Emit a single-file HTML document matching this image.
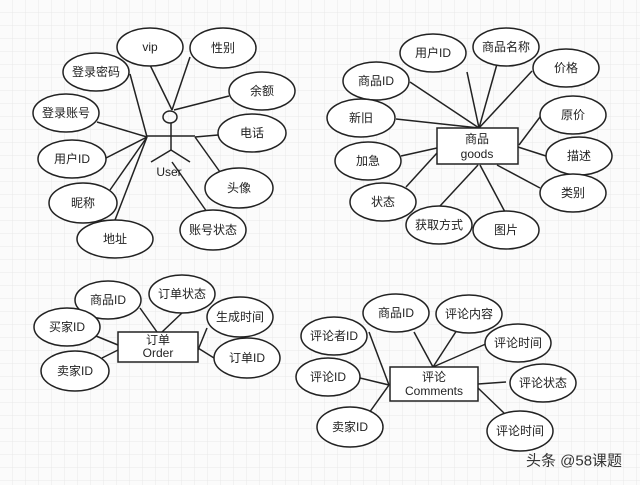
<!DOCTYPE html>
<html><head><meta charset="utf-8"><style>
html,body{margin:0;padding:0;background:#fbfbfb;}
svg{display:block;}
text{font-family:"Liberation Sans","Noto Sans CJK SC",sans-serif;font-size:12px;fill:#222;text-anchor:middle;dominant-baseline:central;}
</style></head><body>
<svg width="640" height="485" viewBox="0 0 640 485" xmlns="http://www.w3.org/2000/svg">
<defs>
<pattern id="g" width="13" height="13" patternUnits="userSpaceOnUse">
<path d="M13 0V13H0" fill="none" stroke="#e8e8e8" stroke-width="1"/>
</pattern>
</defs>
<rect width="640" height="485" fill="url(#g)"/>
<g stroke="#222" stroke-width="1.5" fill="none">
<!-- User lines -->
<line x1="150" y1="65" x2="172" y2="110"/>
<line x1="190" y1="57" x2="172" y2="110"/>
<line x1="229" y1="96" x2="174" y2="110"/>
<line x1="130" y1="74" x2="147" y2="137"/>
<line x1="97" y1="122" x2="147" y2="137"/>
<line x1="106" y1="158" x2="147" y2="137"/>
<line x1="110" y1="190" x2="147" y2="137"/>
<line x1="115" y1="220" x2="147" y2="137"/>
<line x1="218" y1="135" x2="195" y2="137"/>
<line x1="220" y1="172" x2="195" y2="137"/>
<line x1="207" y1="212" x2="172" y2="162"/>
<!-- stick figure -->
<ellipse cx="170" cy="117" rx="7" ry="6"/>
<line x1="171" y1="123" x2="171" y2="150"/>
<line x1="147" y1="136" x2="195" y2="136"/>
<line x1="171" y1="150" x2="151" y2="162"/>
<line x1="171" y1="150" x2="190" y2="162"/>
<!-- goods lines -->
<line x1="467" y1="72" x2="479" y2="128"/>
<line x1="497" y1="64" x2="479" y2="128"/>
<line x1="532" y1="71" x2="479" y2="128"/>
<line x1="410" y1="82" x2="479" y2="128"/>
<line x1="396" y1="119" x2="479" y2="128"/>
<line x1="540" y1="117" x2="519" y2="145"/>
<line x1="546" y1="156" x2="518" y2="147"/>
<line x1="540" y1="188" x2="497" y2="165"/>
<line x1="401" y1="156" x2="437" y2="148"/>
<line x1="406" y1="187" x2="437" y2="153"/>
<line x1="440" y1="206" x2="478" y2="165"/>
<line x1="505" y1="212" x2="480" y2="165"/>
<!-- order lines -->
<line x1="140" y1="308" x2="157" y2="332"/>
<line x1="183" y1="312" x2="162" y2="332"/>
<line x1="207" y1="328" x2="198" y2="350"/>
<line x1="96" y1="336" x2="118" y2="345"/>
<line x1="102" y1="358" x2="118" y2="350"/>
<line x1="214" y1="358" x2="198" y2="348"/>
<!-- comments lines -->
<line x1="369" y1="332" x2="389" y2="385"/>
<line x1="360" y1="378" x2="389" y2="385"/>
<line x1="369" y1="413" x2="389" y2="385"/>
<line x1="414" y1="332" x2="433" y2="367"/>
<line x1="457" y1="330" x2="433" y2="367"/>
<line x1="488" y1="343" x2="433" y2="367"/>
<line x1="506" y1="382" x2="478" y2="384"/>
<line x1="504" y1="413" x2="478" y2="388"/>
</g>
<g stroke="#222" stroke-width="1.5" fill="#fff">
<ellipse cx="150" cy="47" rx="33" ry="19"/>
<ellipse cx="223" cy="48" rx="33" ry="20"/>
<ellipse cx="96" cy="72" rx="33" ry="19"/>
<ellipse cx="262" cy="91" rx="33" ry="19"/>
<ellipse cx="66" cy="113" rx="33" ry="19"/>
<ellipse cx="252" cy="133" rx="34" ry="19"/>
<ellipse cx="72" cy="159" rx="34" ry="19"/>
<ellipse cx="239" cy="188" rx="34" ry="20"/>
<ellipse cx="83" cy="203" rx="34" ry="20"/>
<ellipse cx="213" cy="230" rx="33" ry="20"/>
<ellipse cx="115" cy="239" rx="38" ry="19"/>

<rect x="437" y="128" width="81" height="36"/>
<ellipse cx="433" cy="53" rx="33" ry="19"/>
<ellipse cx="506" cy="47" rx="33" ry="19"/>
<ellipse cx="566" cy="68" rx="33" ry="19"/>
<ellipse cx="376" cy="81" rx="33" ry="19"/>
<ellipse cx="361" cy="118" rx="34" ry="19"/>
<ellipse cx="573" cy="115" rx="33" ry="19"/>
<ellipse cx="368" cy="161" rx="33" ry="19"/>
<ellipse cx="579" cy="156" rx="33" ry="19"/>
<ellipse cx="573" cy="193" rx="33" ry="19"/>
<ellipse cx="383" cy="202" rx="33" ry="19"/>
<ellipse cx="439" cy="225" rx="33" ry="19"/>
<ellipse cx="506" cy="230" rx="33" ry="19"/>

<rect x="118" y="332" width="80" height="30"/>
<ellipse cx="108" cy="300" rx="33" ry="19"/>
<ellipse cx="182" cy="294" rx="33" ry="19"/>
<ellipse cx="240" cy="317" rx="33" ry="20"/>
<ellipse cx="67" cy="327" rx="33" ry="19"/>
<ellipse cx="247" cy="358" rx="33" ry="20"/>
<ellipse cx="75" cy="371" rx="34" ry="20"/>

<rect x="390" y="367" width="88" height="34"/>
<ellipse cx="396" cy="313" rx="33" ry="19"/>
<ellipse cx="469" cy="314" rx="33" ry="19"/>
<ellipse cx="334" cy="336" rx="33" ry="19"/>
<ellipse cx="518" cy="343" rx="33" ry="19"/>
<ellipse cx="328" cy="377" rx="32" ry="19"/>
<ellipse cx="543" cy="383" rx="33" ry="19"/>
<ellipse cx="350" cy="427" rx="33" ry="20"/>
<ellipse cx="520" cy="431" rx="33" ry="20"/>
</g>
<g>
<text x="150" y="47">vip</text>
<text x="223" y="48">性别</text>
<text x="96" y="72">登录密码</text>
<text x="262" y="91">余额</text>
<text x="66" y="113">登录账号</text>
<text x="252" y="133">电话</text>
<text x="72" y="159">用户ID</text>
<text x="239" y="188">头像</text>
<text x="83" y="203">昵称</text>
<text x="213" y="230">账号状态</text>
<text x="115" y="239">地址</text>
<text x="169" y="172">User</text>

<text x="477" y="139">商品</text>
<text x="477" y="154">goods</text>
<text x="433" y="53">用户ID</text>
<text x="506" y="47">商品名称</text>
<text x="566" y="68">价格</text>
<text x="376" y="81">商品ID</text>
<text x="361" y="118">新旧</text>
<text x="573" y="115">原价</text>
<text x="368" y="161">加急</text>
<text x="579" y="156">描述</text>
<text x="573" y="193">类别</text>
<text x="383" y="202">状态</text>
<text x="439" y="225">获取方式</text>
<text x="506" y="230">图片</text>

<text x="158" y="340">订单</text>
<text x="158" y="353">Order</text>
<text x="108" y="300">商品ID</text>
<text x="182" y="294">订单状态</text>
<text x="240" y="317">生成时间</text>
<text x="67" y="327">买家ID</text>
<text x="247" y="358">订单ID</text>
<text x="75" y="371">卖家ID</text>

<text x="434" y="377">评论</text>
<text x="434" y="391">Comments</text>
<text x="396" y="313">商品ID</text>
<text x="469" y="314">评论内容</text>
<text x="334" y="336">评论者ID</text>
<text x="518" y="343">评论时间</text>
<text x="328" y="377">评论ID</text>
<text x="543" y="383">评论状态</text>
<text x="350" y="427">卖家ID</text>
<text x="520" y="431">评论时间</text>
<text x="574" y="461" style="font-size:15px;fill:#333">头条 @58课题</text>
</g>
</svg>
</body></html>
